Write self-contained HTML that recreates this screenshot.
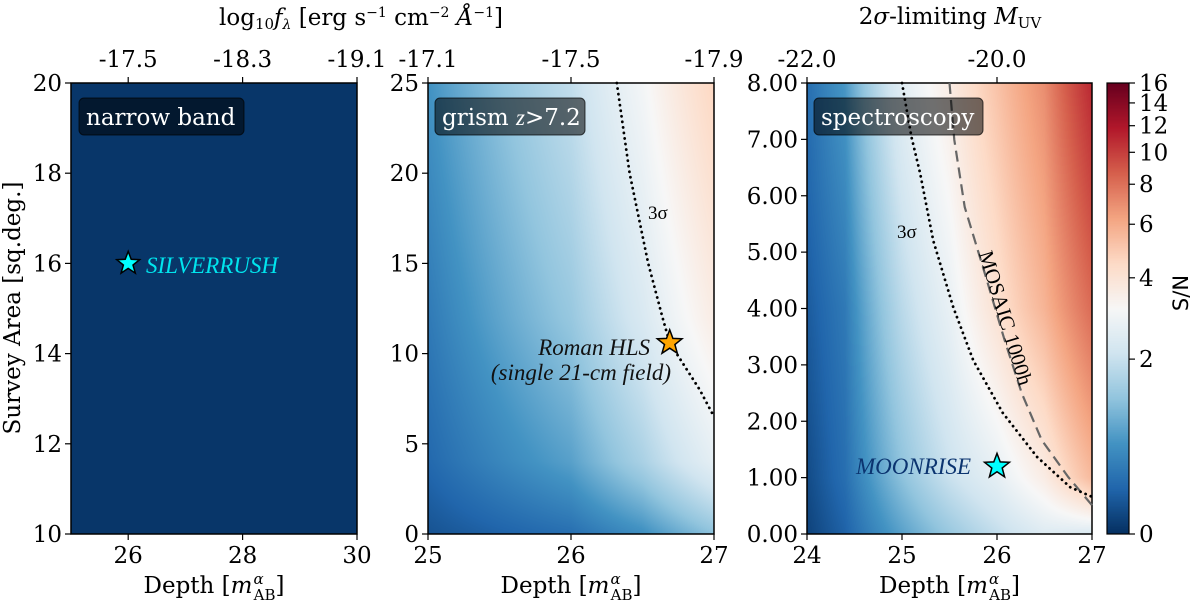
<!DOCTYPE html>
<html><head><meta charset="utf-8">
<style>
body{margin:0;background:#fff;width:1200px;height:600px;overflow:hidden;position:relative;font-family:"DejaVu Serif","Liberation Serif",serif}
canvas{position:absolute}
svg{position:absolute;left:0;top:0}
</style></head><body>
<canvas id="c1" width="286" height="451" style="left:71px;top:83px"></canvas>
<canvas id="c2" width="286" height="451" style="left:428px;top:83px"></canvas>
<canvas id="c3" width="285" height="451" style="left:807px;top:83px"></canvas>
<canvas id="cb" width="22" height="451" style="left:1107px;top:83px"></canvas>
<svg id="s" width="1200" height="600"></svg>
<script>
// ---- data ----
const p1Cols=[25,30], p1Rows=[10,20];
const p1SN=[[0.03,0.03],[0.03,0.03]];
const p2Cols=[25,26,26.5,27], p2Rows=[0,4,12,25];
const p2SN=[[0.2,0.4,0.7,1.3],[0.35,0.9,1.6,2.6],[0.5,1.4,2.3,3.6],[0.75,1.9,3.0,4.6]];
const p3Cols=[24,24.4,25,25.5,26,26.5,27], p3Rows=[0,1,4,8];
const p3SN=[[0.1,0.3,0.9,1.4,1.9,2.4,2.3],[0.15,0.4,1.3,2.0,2.6,3.6,5.5],[0.25,0.5,1.8,2.7,4.1,5.7,8.2],[0.4,0.8,2.5,3.6,5.2,7.0,11]];
const cbTicks=[0,2,4,6,8,10,12,14,16];
const p2SigmaX=[26.32,26.41,26.54,26.64,26.69,26.9,27], p2SigmaY=[25,20,15,12,10.6,8,6.5];
const p3SigmaX=[25.0,25.1,25.19,25.33,25.54,25.75,26.06,26.42,26.77,27], p3SigmaY=[8,7.04,6.4,5.2,4.02,3.08,2.15,1.37,0.83,0.66];
const mosaicX=[25.5,25.55,25.66,25.87,26.08,26.26,26.47,26.75,27], mosaicY=[8,6.99,5.8,4.63,3.44,2.5,1.67,1.01,0.51];
const p1Star=[26,16], p2Star=[26.69,10.6], p3Star=[26,1.2];
const p1XTicks=[26,28,30], p1YTicks=[10,12,14,16,18,20], p1TopLabels=["-17.5","-18.3","-19.1"];
const p2XTicks=[25,26,27], p2YTicks=[0,5,10,15,20,25], p2TopLabels=["-17.1","-17.5","-17.9"];
const p3XTicks=[24,25,26,27], p3YTicks=[0,1,2,3,4,5,6,7,8], p3TopTicks=[24,26], p3TopLabels=["-22.0","-20.0"];

// ---- colormap ----
const stops=["#053061","#2166ac","#4393c3","#92c5de","#d1e5f0","#f7f7f7","#fddbc7","#f4a582","#d6604d","#b2182b","#67001f"].map(h=>[parseInt(h.slice(1,3),16),parseInt(h.slice(3,5),16),parseInt(h.slice(5,7),16)]);
function norm(v){return Math.log(1+Math.max(0,v))/Math.log(17);}
function cmap(t){t=Math.min(1,Math.max(0,t))*10;const i=Math.min(9,Math.floor(t)),f=t-i;return stops[i].map((c,k)=>c+(stops[i+1][k]-c)*f);}
function seg(arr,v){for(let i=0;i<arr.length-1;i++){if(v<=arr[i+1]||i==arr.length-2)return [i,Math.min(1,Math.max(0,(v-arr[i])/(arr[i+1]-arr[i])))];}}
function interp(cols,rows,g,x,y){const [i,fx]=seg(cols,x),[j,fy]=seg(rows,y);
 const a=g[j][i]*(1-fx)+g[j][i+1]*fx,b=g[j+1][i]*(1-fx)+g[j+1][i+1]*fx;return a*(1-fy)+b*fy;}
function heat(id,cols,rows,g,xmin,xmax,ymin,ymax){const c=document.getElementById(id),ctx=c.getContext('2d');
 const W=c.width,H=c.height,im=ctx.createImageData(W,H);
 for(let py=0;py<H;py++)for(let px=0;px<W;px++){const x=xmin+(px+0.5)/W*(xmax-xmin),y=ymax-(py+0.5)/H*(ymax-ymin);
  const col=cmap(norm(interp(cols,rows,g,x,y)));const o=(py*W+px)*4;im.data[o]=col[0];im.data[o+1]=col[1];im.data[o+2]=col[2];im.data[o+3]=255;}
 ctx.putImageData(im,0,0);}
heat('c1',p1Cols,p1Rows,p1SN,25,30,10,20);
heat('c2',p2Cols,p2Rows,p2SN,25,27,0,25);
heat('c3',p3Cols,p3Rows,p3SN,24,27,0,8);
(function(){const c=document.getElementById('cb'),ctx=c.getContext('2d');for(let py=0;py<c.height;py++){const col=cmap(1-(py+0.5)/c.height);ctx.fillStyle=`rgb(${col[0]|0},${col[1]|0},${col[2]|0})`;ctx.fillRect(0,py,c.width,1);}})();

// ---- svg ----
const NS="http://www.w3.org/2000/svg",svg=document.getElementById('s');
function E(tag,attrs,txt,parent){const e=document.createElementNS(NS,tag);for(const k in attrs)e.setAttribute(k,attrs[k]);if(txt!=null)e.textContent=txt;(parent||svg).appendChild(e);return e;}
const TOP=83,BOT=534,FS=23;
const panels=[
 {x0:71,x1:357,xmin:25,xmax:30,ymin:10,ymax:20},
 {x0:428,x1:714,xmin:25,xmax:27,ymin:0,ymax:25},
 {x0:807,x1:1092,xmin:24,xmax:27,ymin:0,ymax:8}];
panels.forEach(p=>{p.sx=v=>p.x0+(v-p.xmin)/(p.xmax-p.xmin)*(p.x1-p.x0);p.sy=v=>BOT-(v-p.ymin)/(p.ymax-p.ymin)*(BOT-TOP);});
function axes(p,name,xt,yt,yfmt,tt,tl){
 const g=E('g',{});
 E('rect',{x:p.x0,y:TOP,width:p.x1-p.x0,height:BOT-TOP,fill:'none',stroke:'#000','stroke-width':1.5},null,g);
 xt.forEach(v=>{const x=p.sx(v);E('line',{x1:x,x2:x,y1:BOT,y2:BOT+6,stroke:'#000','stroke-width':1.2},null,g);
  const t=E('text',{x:x,y:563,'text-anchor':'middle','font-size':FS},String(v),g);});
 yt.forEach(v=>{const y=p.sy(v);E('line',{x1:p.x0-6,x2:p.x0,y1:y,y2:y,stroke:'#000','stroke-width':1.2},null,g);
  const t=E('text',{x:p.x0-9,y:y+8,'text-anchor':'end','font-size':FS},yfmt(v),g);});
 tt.forEach((v,i)=>{const x=p.sx(v);E('line',{x1:x,x2:x,y1:TOP-6,y2:TOP,stroke:'#000','stroke-width':1.2},null,g);
  const t=E('text',{x:x,y:67,'text-anchor':'middle','font-size':FS},tl[i],g);});
 const xl=E('text',{x:(p.x0+p.x1)/2,y:593,'text-anchor':'middle','font-size':FS},null,g);
 
 xl.innerHTML='Depth [<tspan font-style="italic">m</tspan><tspan font-size="15" font-style="italic" dy="-9" dx="1">α</tspan><tspan font-size="15" dy="16" dx="-10">AB</tspan><tspan dy="-7">]</tspan>';
}
axes(panels[0],'narrow-band',p1XTicks,p1YTicks,v=>String(v),p1XTicks,p1TopLabels);
axes(panels[1],'grism',p2XTicks,p2YTicks,v=>String(v),p2XTicks,p2TopLabels);
axes(panels[2],'spectroscopy',p3XTicks,p3YTicks,v=>v.toFixed(2),p3TopTicks,p3TopLabels);

// titles
let t=E('text',{x:361,y:25,'text-anchor':'middle','font-size':FS});

t.innerHTML='log<tspan font-size="15" dy="4">10</tspan><tspan dy="-4" font-style="italic">f</tspan><tspan font-size="14" dy="4" font-style="italic">λ</tspan><tspan dy="-4"> [erg s</tspan><tspan font-size="14" dy="-8">−1</tspan><tspan dy="8"> cm</tspan><tspan font-size="14" dy="-8">−2</tspan><tspan dy="8" font-style="italic"> Å</tspan><tspan font-size="14" dy="-8">−1</tspan><tspan dy="8">]</tspan>';
t=E('text',{x:950,y:24,'text-anchor':'middle','font-size':FS});

t.innerHTML='2<tspan font-style="italic">σ</tspan>-limiting <tspan font-style="italic">M</tspan><tspan font-size="15" dy="4">UV</tspan>';
t=E('text',{x:0,y:0,'text-anchor':'middle','font-size':FS,transform:'translate(20,308) rotate(-90)'},'Survey Area [sq.deg.]');


// colorbar
const cbg=E('g',{});
E('rect',{x:1107,y:TOP,width:22,height:BOT-TOP,fill:'none',stroke:'#000','stroke-width':1.2},null,cbg);
cbTicks.forEach(v=>{const y=BOT-norm(v)*(BOT-TOP);E('line',{x1:1129,x2:1135,y1:y,y2:y,stroke:'#000','stroke-width':1.2},null,cbg);
 const tl=E('text',{x:1139,y:y+8,'font-size':FS},String(v),cbg);});
t=E('text',{x:0,y:0,'text-anchor':'middle','font-size':21,'font-family':'"DejaVu Sans",sans-serif',transform:'translate(1188,293) rotate(-90)'},'S/N');


// curves
function curve(p,xs,ys,attrs,name){const d=xs.map((x,i)=>(i?'L':'M')+p.sx(x).toFixed(1)+','+p.sy(ys[i]).toFixed(1)).join('');
 const e=E('path',Object.assign({d:d,fill:'none'},attrs));}
const dot={stroke:'#000','stroke-width':2.8,'stroke-dasharray':'0.1,5.5','stroke-linecap':'round'};
curve(panels[1],p2SigmaX,p2SigmaY,dot,'grism-3sigma-curve');
curve(panels[2],mosaicX,mosaicY,{stroke:'#666','stroke-width':2.2,'stroke-dasharray':'11,6'},'mosaic-1000h-curve');
curve(panels[2],p3SigmaX,p3SigmaY,dot,'spectroscopy-3sigma-curve');

// stars
function star(p,pt,r,fill,name){const cx=p.sx(pt[0]),cy=p.sy(pt[1]);let d='';
 for(let i=0;i<10;i++){const a=-Math.PI/2+i*Math.PI/5,rr=i%2?r*0.42:r;d+=(i?'L':'M')+(cx+rr*Math.cos(a)).toFixed(1)+','+(cy+rr*Math.sin(a)).toFixed(1);}
 const e=E('path',{d:d+'Z',fill:fill,stroke:'#000','stroke-width':1.5,'stroke-linejoin':'miter'});}
star(panels[0],p1Star,12,'#00ffff','silverrush-star');
star(panels[1],p2Star,13,'#ffa500','roman-hls-star');
star(panels[2],p3Star,13,'#00ffff','moonrise-star');

// annotations
function txt(x,y,s,attrs,name){const e=E('text',Object.assign({x:x,y:y},attrs),s);return e;}
const it={'font-family':'"Liberation Serif",serif','font-style':'italic','font-size':23};
txt(146,273,'SILVERRUSH',Object.assign({fill:'#00e5ee'},it),'silverrush-label');
txt(650,355,'Roman HLS',Object.assign({'text-anchor':'end',fill:'#111'},it),'roman-hls-label');
txt(671,380,'(single 21-cm field)',Object.assign({'text-anchor':'end',fill:'#111'},it),'roman-hls-sublabel');
txt(971,474,'MOONRISE',Object.assign({'text-anchor':'end',fill:'#0b3470'},it),'moonrise-label');
txt(897,238,'3σ',{'font-size':19,'font-family':'"Liberation Serif",serif'},'spectroscopy-3sigma-label');
txt(648,219,'3σ',{'font-size':19,'font-family':'"Liberation Serif",serif'},'grism-3sigma-label');
txt(0,0,'MOSAIC 1000h',{'font-size':21,'font-family':'"Liberation Serif",serif','text-anchor':'middle',transform:'translate(999,320) rotate(73)'},'mosaic-1000h-label');

// label boxes
function box(x,w,label,name,html){const g=E('g',{});
 E('rect',{x:x,y:98,width:w,height:37,rx:5,fill:'rgba(0,0,0,0.55)',stroke:'rgba(0,0,0,0.7)','stroke-width':1},null,g);
 const t=E('text',{x:x+7,y:125,'font-size':23,fill:'#fff'},label,g);if(html)t.innerHTML=html;}
box(79,165,'narrow band','narrow-band-label-box');
box(435,150,'grism z > 7.2','grism-label-box','grism <tspan font-style="italic" font-family="Liberation Serif, serif">z</tspan>&gt;7.2');
box(814,169,'spectroscopy','spectroscopy-label-box');
</script>
</body></html>
